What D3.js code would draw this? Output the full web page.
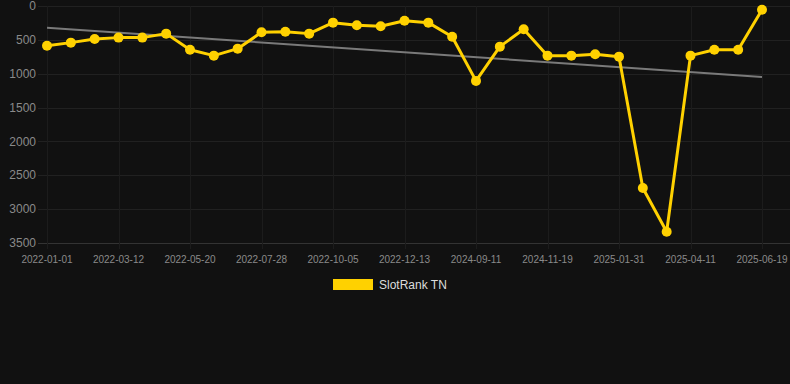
<!DOCTYPE html>
<html>
<head>
<meta charset="utf-8">
<script src="https://cdn.jsdelivr.net/npm/d3@7/dist/d3.min.js"></script>
<style>
  html, body { margin: 0; padding: 0; background: #111111; }
  svg { display: block; font-family: "Liberation Sans", Arial, sans-serif; }
</style>
</head>
<body>
<div id="chart"></div>
<script>
  const dates = [
    '2022-01-01', '2022-01-24', '2022-02-17', '2022-03-12', '2022-04-04', '2022-04-27',
    '2022-05-20', '2022-06-12', '2022-07-05', '2022-07-28', '2022-08-20', '2022-09-12',
    '2022-10-05', '2022-10-28', '2022-11-20', '2022-12-13', '2023-01-05', '2024-08-19',
    '2024-09-11', '2024-10-04', '2024-10-27', '2024-11-19', '2024-12-12', '2025-01-04',
    '2025-01-31', '2025-02-23', '2025-03-18', '2025-04-11', '2025-05-04', '2025-05-27',
    '2025-06-19'
  ];
  const ranks = [
    586, 541, 487, 467, 467, 408, 645, 733, 630, 388, 379, 408, 246, 285, 300, 217,
    246, 453, 1106, 600, 344, 733, 733, 713, 748, 2689, 3334, 733, 645, 645, 55
  ];
  const trend = [320, 1047];
  const yTicks = [0, 500, 1000, 1500, 2000, 2500, 3000, 3500];
  const seriesName = 'SlotRank TN';

  const W = 790, H = 384;
  const m = { left: 47, right: 762, top: 6, bottom: 243 };

  const svg = d3.select('#chart').append('svg')
    .attr('width', W).attr('height', H);

  const x = d3.scalePoint().domain(d3.range(dates.length)).range([m.left, m.right]);
  const y = d3.scaleLinear().domain([0, 3500]).range([m.top, m.bottom]);

  // horizontal grid
  svg.append('g').selectAll('line')
    .data(yTicks).enter().append('line')
    .attr('x1', 38).attr('x2', W)
    .attr('y1', d => Math.round(y(d)) + 0.5).attr('y2', d => Math.round(y(d)) + 0.5)
    .attr('stroke', d => d === 3500 ? '#333' : '#212121')
    .attr('stroke-width', 1);

  // vertical grid at shown ticks
  const shown = d3.range(0, dates.length, 3);
  svg.append('g').selectAll('line')
    .data(shown).enter().append('line')
    .attr('x1', d => Math.round(x(d)) + 0.5).attr('x2', d => Math.round(x(d)) + 0.5)
    .attr('y1', m.top).attr('y2', m.bottom + 6)
    .attr('stroke', '#1c1c1c')
    .attr('stroke-width', 1);

  // y labels
  svg.append('g').selectAll('text')
    .data(yTicks).enter().append('text')
    .attr('x', 36).attr('y', d => y(d))
    .attr('dy', '0.35em')
    .attr('text-anchor', 'end')
    .attr('font-size', 12)
    .attr('fill', '#8a8a8a')
    .text(d => d);

  // x labels
  svg.append('g').selectAll('text')
    .data(shown).enter().append('text')
    .attr('x', d => x(d)).attr('y', 259)
    .attr('dy', '0.35em')
    .attr('text-anchor', 'middle')
    .attr('font-size', 10)
    .attr('fill', '#8a8a8a')
    .text(d => dates[d]);

  // trend line
  svg.append('line')
    .attr('x1', x(0)).attr('x2', x(dates.length - 1))
    .attr('y1', y(trend[0])).attr('y2', y(trend[1]))
    .attr('stroke', '#7a7a7a')
    .attr('stroke-width', 2);

  // series line
  const line = d3.line().x((d, i) => x(i)).y(d => y(d));
  svg.append('path')
    .datum(ranks)
    .attr('d', line)
    .attr('fill', 'none')
    .attr('stroke', '#ffd100')
    .attr('stroke-width', 3)
    .attr('stroke-linejoin', 'round');

  svg.append('g').selectAll('circle')
    .data(ranks).enter().append('circle')
    .attr('cx', (d, i) => x(i)).attr('cy', d => y(d))
    .attr('r', 5)
    .attr('fill', '#ffd100');

  // legend
  const lg = svg.append('g');
  lg.append('rect')
    .attr('x', 333).attr('y', 279)
    .attr('width', 40).attr('height', 11)
    .attr('fill', '#ffd100');
  lg.append('text')
    .attr('x', 379).attr('y', 285)
    .attr('dy', '0.35em')
    .attr('font-size', 12)
    .attr('fill', '#dddddd')
    .text(seriesName);
</script>
</body>
</html>
